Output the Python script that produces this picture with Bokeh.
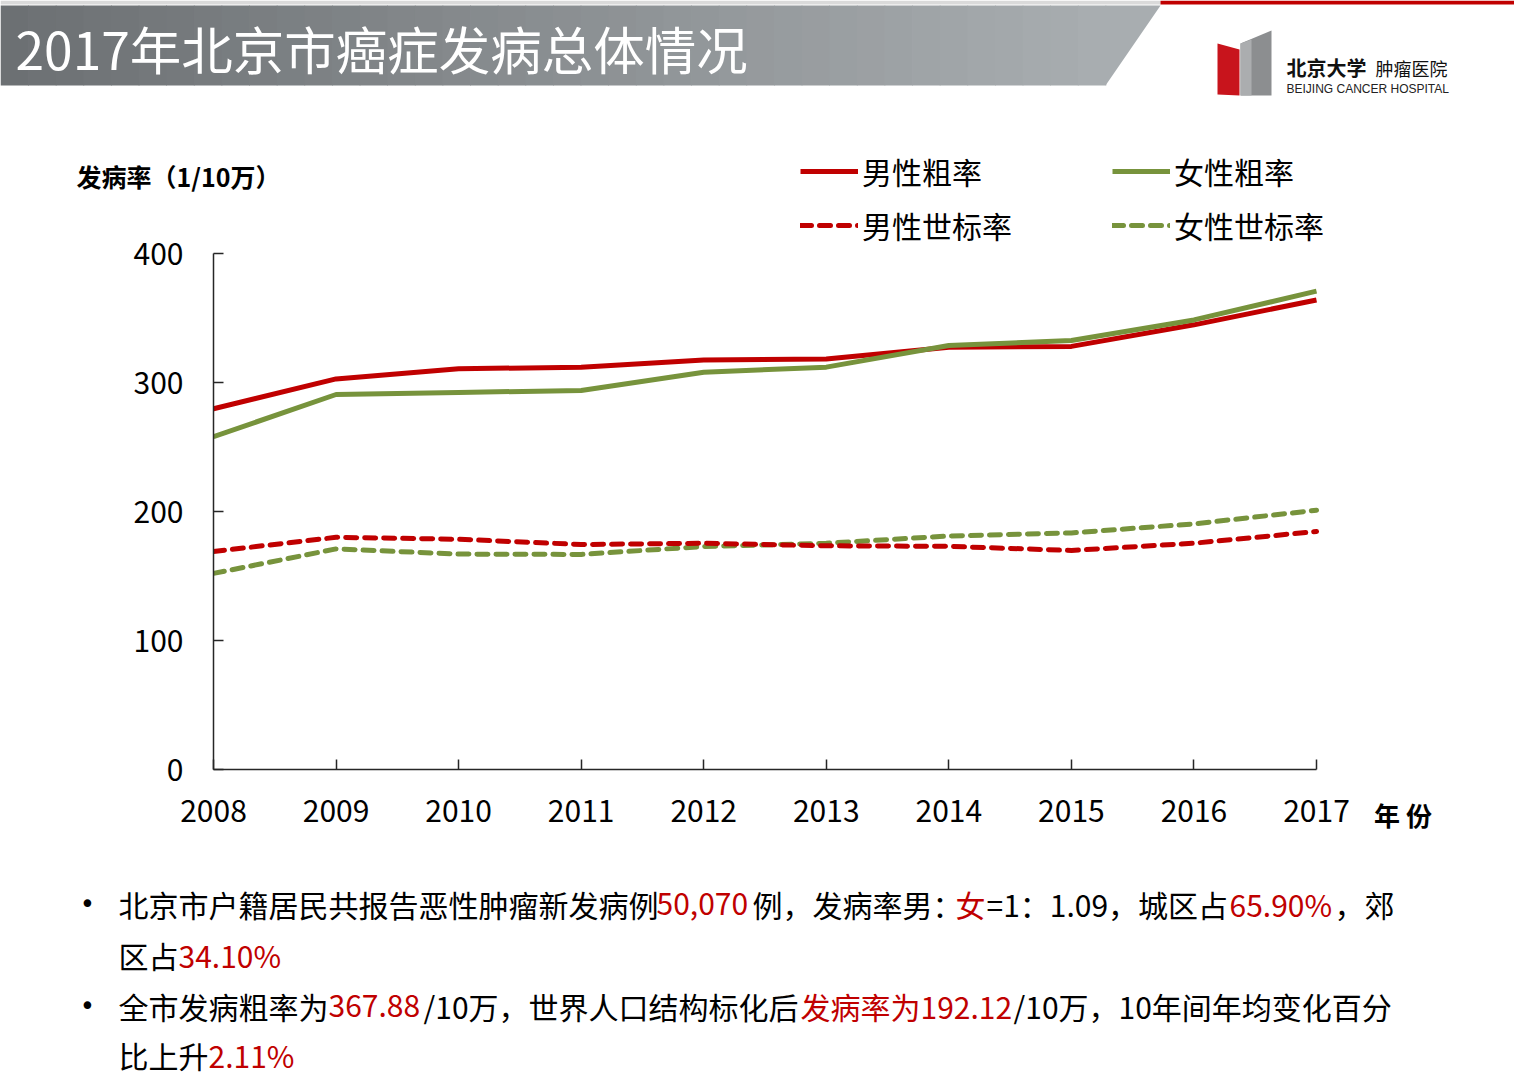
from bokeh.plotting import figure
from bokeh.layouts import column, row
from bokeh.models import Range1d, FixedTicker, ColumnDataSource, Div, Legend, LegendItem
from bokeh.core.properties import value
from bokeh.embed import file_html
from bokeh.resources import INLINE

# ---------------- data ----------------
years = [2008, 2009, 2010, 2011, 2012, 2013, 2014, 2015, 2016, 2017]
male_crude = [279.6, 302.8, 310.6, 311.9, 317.5, 318.3, 327.4, 328.0, 344.7, 364.0]
female_crude = [258.0, 290.7, 292.3, 293.8, 308.0, 311.9, 328.7, 332.6, 348.5, 370.8]
male_std = [169.0, 180.0, 178.5, 174.4, 175.4, 173.4, 173.0, 169.8, 175.4, 184.5]
female_std = [152.0, 171.0, 167.0, 166.7, 172.9, 175.4, 181.0, 183.4, 190.4, 201.0]
y_ticks = [0, 100, 200, 300, 400]
series_names = ["男性粗率", "女性粗率", "男性世标率", "女性世标率"]

title_text = "2017年北京市癌症发病总体情况"
y_title = "发病率（1/10万）"
x_title = "年 份"

RED = "#C00000"
GREEN = "#77933C"
FONT = "Noto Sans CJK SC"
LW = 5
DASH = "11 8"

W = 1514
H_HEAD = 198
H_MAIN = 860 - H_HEAD
H_FOOT = 1076 - H_HEAD - H_MAIN
W_MAIN = 1360
W_SIDE = W - W_MAIN

# pixel geometry of the plot area (page pixels)
AX_LEFT, AX_RIGHT, Y0_PX, Y400_PX = 213, 1316, 769, 253
FRAME_RIGHT = 1352                       # frame extends a little past the axis end
px_per_year = (AX_RIGHT - AX_LEFT) / (years[-1] - years[0])
px_per_unit = (Y0_PX - Y400_PX) / 400.0
x_end_value = years[-1] + (FRAME_RIGHT - AX_RIGHT) / px_per_year
y_top_value = 400 + (Y400_PX - H_HEAD) / px_per_unit   # frame reaches up to the header


def canvas_fig(w, h):
    """A decoration figure whose frame fills the canvas; 1 data unit = 1 px, y down."""
    f = figure(width=w, height=h, output_backend="svg", toolbar_location=None,
               x_range=Range1d(0, w), y_range=Range1d(h, 0),
               x_axis_location=None, y_axis_location=None, min_border=0)
    f.outline_line_color = None
    f.grid.visible = False
    f.background_fill_color = "white"
    f.border_fill_color = "white"
    return f


def txt(f, x, y, s, size, color="#000000", bold=False, align="left", font=FONT):
    f.text(x=[x], y=[y], text=[s], text_font=value(font),
           text_font_size=value(size), text_color=color,
           text_font_style="bold" if bold else "normal",
           text_baseline="middle", text_align=align)


def make_legend(items, loc):
    return Legend(items=items, location=loc, orientation="horizontal",
                  glyph_width=58, glyph_height=20, label_standoff=4,
                  label_width=150, spacing=100, padding=0, margin=0,
                  border_line_color=None, background_fill_alpha=0,
                  label_text_font=FONT, label_text_font_size="30px",
                  label_text_color="#000000", label_text_baseline="middle")


# ================= header =================
head = canvas_fig(W, H_HEAD)
head.quad(left=[0], right=[1160], top=[0], bottom=[4], fill_color="#DADADA", line_color=None)
head.quad(left=[1160], right=[W], top=[0], bottom=[4], fill_color=RED, line_color=None)

c0 = (108, 112, 115)
c1 = (168, 173, 176)
n = 40
band_right = 1105
lefts, rights, cols = [], [], []
for i in range(n):
    t = i / (n - 1)
    cols.append("#%02x%02x%02x" % tuple(int(round(a + (b - a) * t)) for a, b in zip(c0, c1)))
    lefts.append(band_right * i / n)
    rights.append(band_right * (i + 1) / n + 0.8)
head.quad(left=lefts, right=rights, top=5, bottom=85, fill_color=cols, line_color=None)
head.patch([band_right, 1160, band_right], [85, 5, 5], fill_color="#%02x%02x%02x" % c1,
           line_color=None)
txt(head, 15, 47, title_text, "51.5px", color="white")

# logo
head.patch([1217, 1239, 1239, 1217], [43, 49, 95, 94], fill_color="#C8141C", line_color=None)
head.patch([1240, 1271, 1271, 1240], [43, 30, 95, 95], fill_color="#8C8E90", line_color=None)
head.patch([1240, 1251, 1251, 1240], [43, 39, 95, 95], fill_color="#ABADAF", line_color=None)
txt(head, 1286, 67, "北京大学", "20px", color="#111111", bold=True)
txt(head, 1375, 67, "肿瘤医院", "18px", color="#111111")
txt(head, 1286, 88, "BEIJING CANCER HOSPITAL", "12px", color="#222222", font="Liberation Sans")

# y-axis title
txt(head, 76, 175, y_title, "25px", bold=True)

# legend row 1 (crude rates): style swatches placed outside the visible range
sw_mc = head.line(x=[-50, -40], y=[-50, -50], line_color=RED, line_width=LW)
sw_fc = head.line(x=[-50, -40], y=[-50, -50], line_color=GREEN, line_width=LW)
head.add_layout(make_legend([LegendItem(label=series_names[0], renderers=[sw_mc]),
                             LegendItem(label=series_names[1], renderers=[sw_fc])],
                            (800, H_HEAD - 193)))

# ================= main chart =================
p = figure(width=W_MAIN, height=H_MAIN, output_backend="svg", toolbar_location=None,
           x_range=Range1d(years[0], x_end_value), y_range=Range1d(0, y_top_value),
           min_border_left=AX_LEFT, min_border_right=W_MAIN - FRAME_RIGHT,
           min_border_top=0, min_border_bottom=H_HEAD + H_MAIN - Y0_PX)
p.outline_line_color = None
p.grid.visible = False
p.background_fill_color = "white"
p.border_fill_color = "white"

for ax in (p.xaxis[0], p.yaxis[0]):
    ax.axis_line_color = "#262626"
    ax.axis_line_width = 1.5
    ax.major_tick_line_color = "#262626"
    ax.major_tick_line_width = 1.5
    ax.major_tick_in = 10
    ax.major_tick_out = 0
    ax.minor_tick_line_color = None
    ax.major_label_text_font = FONT
    ax.major_label_text_font_size = "30px"
    ax.major_label_text_color = "#000000"

p.xaxis.ticker = FixedTicker(ticks=years)
p.yaxis.ticker = FixedTicker(ticks=y_ticks)
p.xaxis.bounds = (years[0], years[-1])
p.yaxis.bounds = (0, 400)
p.xaxis.major_label_standoff = 30
p.yaxis.major_label_standoff = 30

src = ColumnDataSource(dict(x=years, mc=male_crude, fc=female_crude,
                            ms=male_std, fs=female_std))
r_fs = p.line("x", "fs", source=src, line_color=GREEN, line_width=LW,
              line_dash=DASH, line_cap="round")
r_ms = p.line("x", "ms", source=src, line_color=RED, line_width=LW,
              line_dash=DASH, line_cap="round")
r_mc = p.line("x", "mc", source=src, line_color=RED, line_width=LW)
r_fc = p.line("x", "fc", source=src, line_color=GREEN, line_width=LW)

# legend row 2 (standardised rates), inside the frame
p.add_layout(make_legend([LegendItem(label=series_names[2], renderers=[r_ms]),
                          LegendItem(label=series_names[3], renderers=[r_fs])],
                         (800 - AX_LEFT, Y0_PX - 247)))

# side panel with the x-axis title (HTML text, positioned by padding)
side = Div(text=('<div style="padding-left:%dpx;padding-top:%dpx;'
                 'font-family:\'Noto Sans CJK SC\';font-size:26px;font-weight:bold;'
                 'line-height:26px;white-space:nowrap;color:#000;">%s</div>'
                 % (1374 - W_MAIN, 815 - 13 - H_HEAD, x_title)),
           width=W_SIDE, height=H_MAIN, margin=0)

# ================= bullet text =================
foot = canvas_fig(W, H_FOOT)
Y0 = H_HEAD + H_MAIN
K = "#000000"
lines = [
    (903, [("北京市户籍居民共报告恶性肿瘤新发病例", 118, K), ("50,070", 656, RED),
           ("例，发病率男：", 752, K), ("女", 955, RED),
           ("=1：1.09，城区占", 986, K), ("65.90%", 1229, RED), ("，郊", 1334, K)]),
    (954, [("区占", 118, K), ("34.10%", 178, RED)]),
    (1005, [("全市发病粗率为", 118, K), ("367.88", 328, RED),
             ("/10万，世界人口结构标化后", 423, K), ("发病率为192.12", 800, RED),
             ("/10万，10年间年均变化百分", 1013, K)]),
    (1054, [("比上升", 118, K), ("2.11%", 208, RED)]),
]
for y, segs in lines:
    for s, x, col in segs:
        txt(foot, x, y - Y0, s, "30px", color=col)
for y in (903, 1005):
    txt(foot, 87, y - Y0, "•", "26px", align="center", font="DejaVu Sans")

layout = column(head, row(p, side, spacing=0), foot, spacing=0)
open("out.html", "w").write(file_html(layout, INLINE))
